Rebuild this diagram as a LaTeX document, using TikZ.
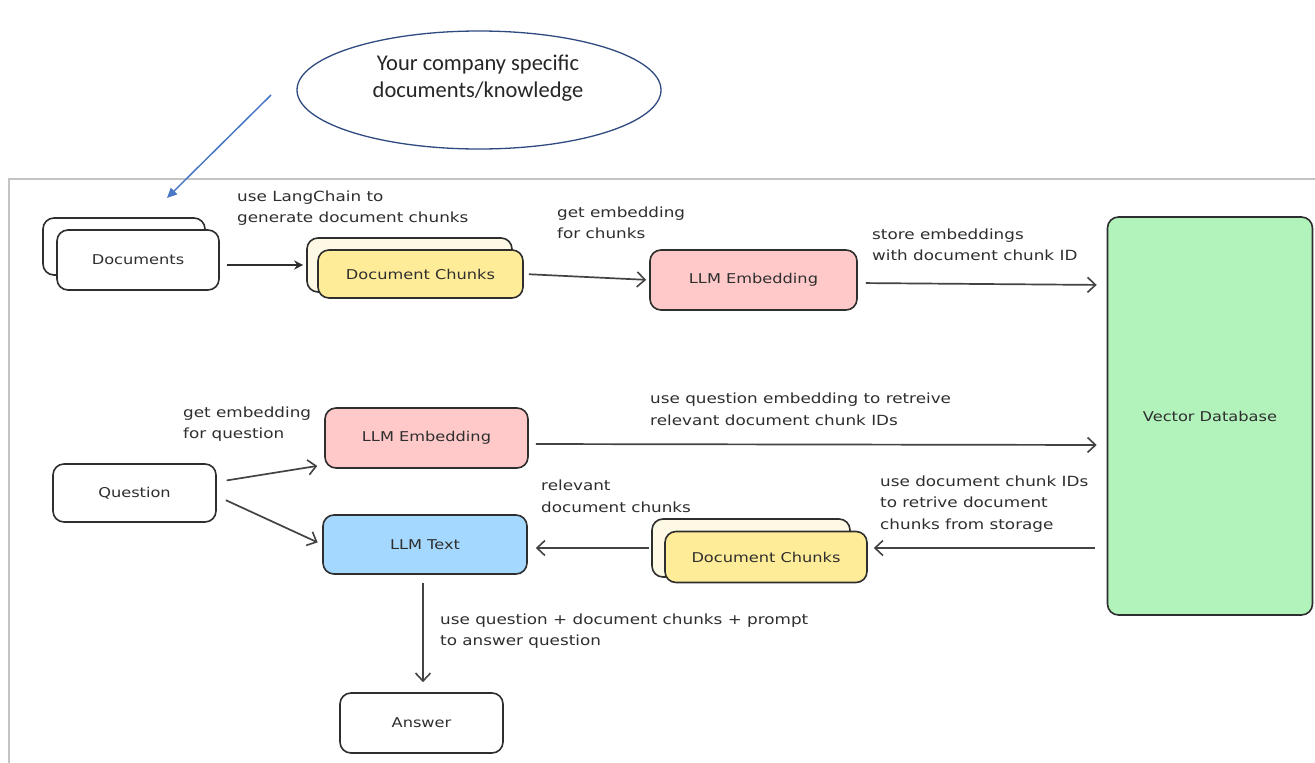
\documentclass[tikz,border=0pt]{standalone}
\usepackage{fontspec}
\usetikzlibrary{arrows.meta,shapes.geometric}
\newfontfamily\handfont[FakeStretch=1.2]{DejaVu Sans}
\newfontfamily\notefont{Carlito}
\definecolor{stroke}{HTML}{2E2E2E}
\definecolor{framegray}{HTML}{C4C4C4}
\definecolor{pinkfill}{HTML}{FFC9C9}
\definecolor{yellowfill}{HTML}{FFEC99}
\definecolor{creamfill}{HTML}{FDF9E4}
\definecolor{bluefill}{HTML}{A5D8FF}
\definecolor{greenfill}{HTML}{B2F2BB}
\definecolor{noteblue}{HTML}{2F4A80}
\definecolor{pointerblue}{HTML}{4A78C8}
\tikzset{
  box/.style={draw=stroke, line width=1.6pt, rounded corners=11pt, inner sep=0pt,
    font=\handfont\fontsize{13.5}{15}\selectfont, text=stroke},
  lbl/.style={anchor=west, align=left, inner sep=0pt,
    font=\handfont\fontsize{14}{21.5}\selectfont, text=stroke},
  arr/.style={draw=stroke!90, line width=1.7pt, -{Straight Barb[length=8pt,width=15pt,line width=1.6pt]}},
  arrsolid/.style={draw=stroke, line width=1.7pt, -{Stealth[length=9pt,width=9pt]}},
}
\begin{document}
\begin{tikzpicture}[x=1pt,y=-1pt]
\useasboundingbox (0,0) rectangle (1315,763);
\fill[white] (0,0) rectangle (1315,763);

% outer frame, open to the right and bottom
\draw[framegray, line width=1.5pt] (9,763) -- (9,179) -- (1315,179);

% note bubble and its pointer
\node[ellipse, draw=noteblue, line width=1.3pt, minimum width=364pt, minimum height=118pt] (note) at (479,90) {};
\node[font=\notefont\fontsize{22.5}{27}\selectfont, align=center, text=black!85] (notetext) at (478,78)
  {Your company specific\\documents/knowledge};
\coordinate (ptrstart) at (271,95);
\coordinate (ptrend) at (167,198);
\draw[pointerblue, line width=1.5pt, -{Triangle[length=10pt,width=9pt]}] (ptrstart) -- (ptrend);

% ingestion row
\node[box, fill=white, minimum width=162pt, minimum height=57pt] (docsback) at (124,246.5) {};
\node[box, fill=white, minimum width=162pt, minimum height=60pt] (docs) at (138,260) {Documents};

\node[box, fill=creamfill, minimum width=205pt, minimum height=54pt] (chunksback) at (409.5,265) {};
\node[box, fill=yellowfill, minimum width=205pt, minimum height=48pt] (chunks) at (420.5,274) {Document Chunks};

\node[box, fill=pinkfill, minimum width=207pt, minimum height=60pt] (embA) at (753.5,280) {LLM Embedding};

\node[box, fill=greenfill, minimum width=205pt, minimum height=398pt] (vdb) at (1210,416) {Vector Database};

% query row
\node[box, fill=white, minimum width=163pt, minimum height=58pt] (question) at (134.5,493) {Question};
\node[box, fill=pinkfill, minimum width=203pt, minimum height=60pt] (embB) at (426.5,438) {LLM Embedding};
\node[box, fill=bluefill, minimum width=204pt, minimum height=59pt] (llmtext) at (425,544.5) {LLM Text};

\node[box, fill=creamfill, minimum width=198pt, minimum height=58pt] (chunksBback) at (751,548) {};
\node[box, fill=yellowfill, minimum width=202pt, minimum height=51pt] (chunksB) at (766,557) {Document Chunks};

\node[box, fill=white, minimum width=163pt, minimum height=60pt] (answer) at (421.5,723) {Answer};

% connectors
\draw[arrsolid, shorten <=7pt, shorten >=3pt] ([yshift=-5pt]docs.east) -- ([yshift=-5pt]docs.east -| chunksback.west);
\draw[arr, shorten <=5pt, shorten >=3pt] (chunks.east) -- (embA.west);
\draw[arr, shorten <=8pt, shorten >=10pt] ([yshift=-3pt]embA.east) -- ([yshift=-5pt]embA.east -| vdb.west);

\draw[arr, shorten <=10pt, shorten >=7pt] ([yshift=11pt]question.east) -- ([yshift=4pt]embB.south west);
\draw[arr, shorten <=10pt, shorten >=5pt] ([yshift=-3pt]question.east) -- (llmtext.west);
\draw[arr, shorten <=7pt, shorten >=10pt] ([yshift=-6pt]embB.east) -- ([yshift=-7pt]embB.east -| vdb.west);

\draw[arr, shorten <=12pt, shorten >=6pt] (vdb.west |- chunksBback.east) -- (chunksB.east |- chunksBback.east);
\draw[arr, shorten <=2pt, shorten >=8pt] (chunksBback.west) -- (llmtext.east |- chunksBback.west);
\draw[arr, shorten <=8pt, shorten >=10pt] ([xshift=-2pt]llmtext.south) -- ([xshift=1.5pt]answer.north);

% connector labels
\node[lbl] (lblsplit) at (237,208) {use LangChain to\\generate document chunks};
\node[lbl] (lblembA) at (557,223) {get embedding\\for chunks};
\node[lbl] (lblstore) at (872,245) {store embeddings\\with document chunk ID};
\node[lbl] (lblembB) at (183,424) {get embedding\\for question};
\node[lbl] (lblquery) at (650,409.5) {use question embedding to retreive\\relevant document chunk IDs};
\node[lbl] (lblrel) at (541,496.5) {relevant\\document chunks};
\node[lbl] (lblfetch) at (880,504) {use document chunk IDs\\to retrive document\\chunks from storage};
\node[lbl] (lblanswer) at (440,631) {use question + document chunks + prompt\\to answer question};
\end{tikzpicture}
\end{document}
